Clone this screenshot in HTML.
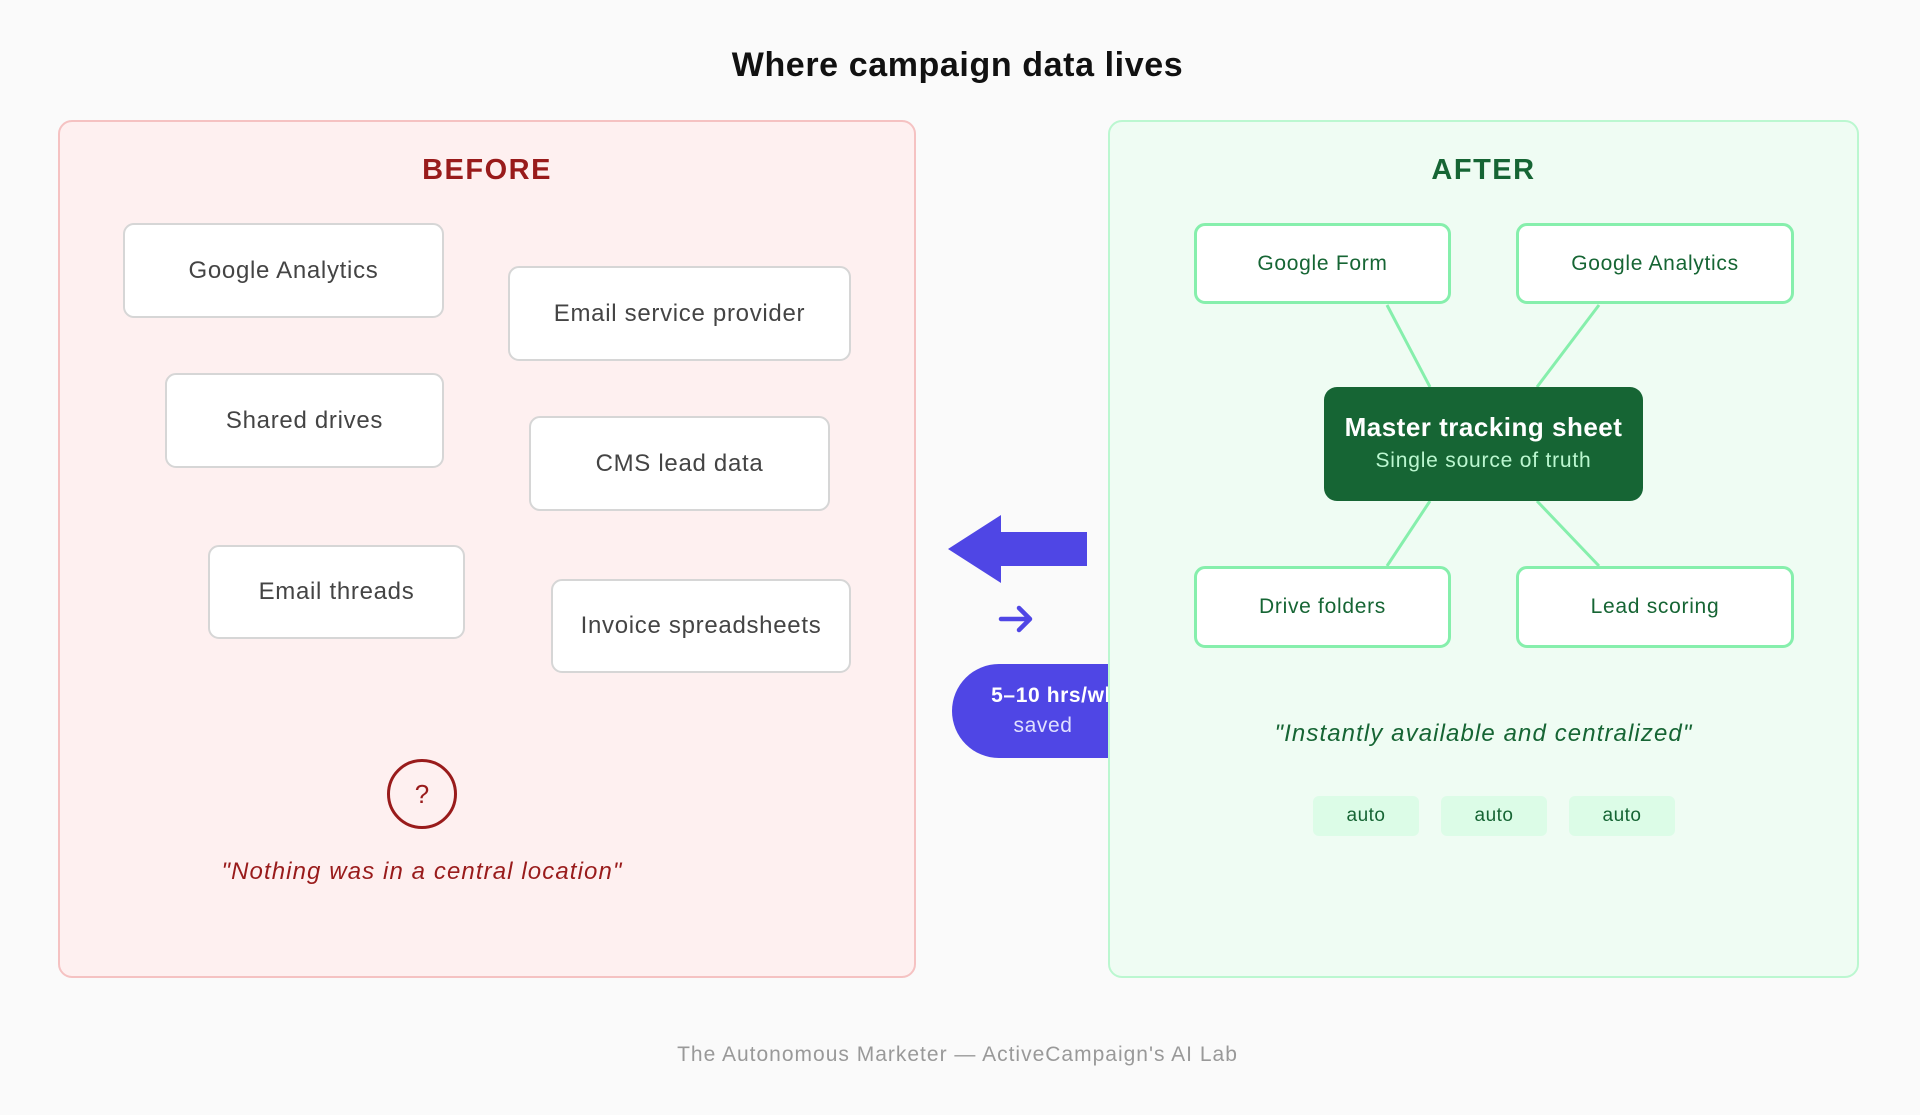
<!DOCTYPE html>
<html><head><meta charset="utf-8"><style>
body{margin:0;width:1920px;height:1115px;background:#fafafa;font-family:"Liberation Sans",sans-serif;position:relative;overflow:hidden}
.a{position:absolute;box-sizing:border-box}
.t{display:flex;align-items:center;justify-content:center;text-align:center}
.bb{background:#fff;border:2px solid #d6d6d6;border-radius:11px;color:#444;font-size:24px;letter-spacing:.7px}
.gb{background:#fff;border:3px solid #86efac;border-radius:11px;color:#166534;font-size:21px;letter-spacing:.7px}
.chip{background:#dcfce7;color:#166534;border-radius:6px;font-size:19px;top:796px;height:40px;width:106px;letter-spacing:.5px}
</style></head><body>
<div class="a t" style="left:0;width:1915px;top:44px;height:42px;font-size:34px;font-weight:bold;color:#111;letter-spacing:.6px">Where campaign data lives</div>
<div class="a" style="left:952px;top:664px;width:220px;height:94px;border-radius:47px;background:#4f46e5"></div>
<div class="a t" style="left:952px;top:677px;width:182px;height:68px;flex-direction:column;color:#fff;font-size:21px;line-height:30px;white-space:nowrap;letter-spacing:.6px"><b style="margin-left:22px">5–10 hrs/wk</b><span style="color:#e0e0ff">saved</span></div>

<div class="a" style="left:58px;top:120px;width:858px;height:858px;background:#fef0f0;border:2px solid #f5c2c2;border-radius:14px"></div>
<div class="a" style="left:1108px;top:120px;width:751px;height:858px;background:#effcf3;border:2px solid #bbf7d0;border-radius:14px"></div>

<div class="a t" style="left:58px;width:858px;top:150px;height:40px;font-size:29px;font-weight:bold;color:#991b1b;letter-spacing:1.5px">BEFORE</div>
<div class="a t bb" style="left:123px;top:223px;width:321px;height:95px">Google Analytics</div>
<div class="a t bb" style="left:508px;top:266px;width:343px;height:95px">Email service provider</div>
<div class="a t bb" style="left:165px;top:373px;width:279px;height:95px">Shared drives</div>
<div class="a t bb" style="left:529px;top:416px;width:301px;height:95px">CMS lead data</div>
<div class="a t bb" style="left:208px;top:545px;width:257px;height:94px">Email threads</div>
<div class="a t bb" style="left:551px;top:579px;width:300px;height:94px">Invoice spreadsheets</div>
<div class="a t" style="left:387px;top:759px;width:70px;height:70px;border:3px solid #991b1b;border-radius:50%;color:#991b1b;font-size:26px">?</div>
<div class="a t" style="left:122px;width:600px;top:855px;height:34px;font-size:24px;font-style:italic;color:#991b1b;letter-spacing:1.1px">"Nothing was in a central location"</div>

<svg class="a" style="left:0;top:0" width="1920" height="1115">
<polygon points="948,549 1001,515 1001,532 1087,532 1087,566 1001,566 1001,583" fill="#4f46e5"/>
<path d="M1001,619 H1029 M1019,608 L1030,619 L1019,630" stroke="#4f46e5" stroke-width="4.5" fill="none" stroke-linecap="round" stroke-linejoin="round"/>
<g stroke="#86efac" stroke-width="3">
<line x1="1387" y1="305" x2="1430" y2="387"/><line x1="1599" y1="305" x2="1537" y2="387"/>
<line x1="1430" y1="501" x2="1387" y2="566"/><line x1="1537" y1="501" x2="1599" y2="566"/></g>
</svg>

<div class="a t" style="left:1108px;width:751px;top:150px;height:40px;font-size:29px;font-weight:bold;color:#166534;letter-spacing:1.5px">AFTER</div>
<div class="a t gb" style="left:1194px;top:223px;width:257px;height:81px">Google Form</div>
<div class="a t gb" style="left:1516px;top:223px;width:278px;height:81px">Google Analytics</div>
<div class="a t" style="left:1324px;top:387px;width:319px;height:114px;background:#166534;border-radius:13px;flex-direction:column;line-height:34px">
<b style="color:#fff;font-size:26px;letter-spacing:.5px">Master tracking sheet</b><span style="color:#bbf7d0;font-size:21px;letter-spacing:.8px">Single source of truth</span></div>
<div class="a t gb" style="left:1194px;top:566px;width:257px;height:82px">Drive folders</div>
<div class="a t gb" style="left:1516px;top:566px;width:278px;height:82px">Lead scoring</div>
<div class="a t" style="left:1108px;width:751px;top:717px;height:34px;font-size:24px;font-style:italic;color:#166534;letter-spacing:1.1px">"Instantly available and centralized"</div>
<div class="a t chip" style="left:1313px">auto</div>
<div class="a t chip" style="left:1441px">auto</div>
<div class="a t chip" style="left:1569px">auto</div>

<div class="a t" style="left:0;width:1915px;top:1040px;height:30px;font-size:21px;color:#999;letter-spacing:1px">The Autonomous Marketer — ActiveCampaign's AI Lab</div>
</body></html>
